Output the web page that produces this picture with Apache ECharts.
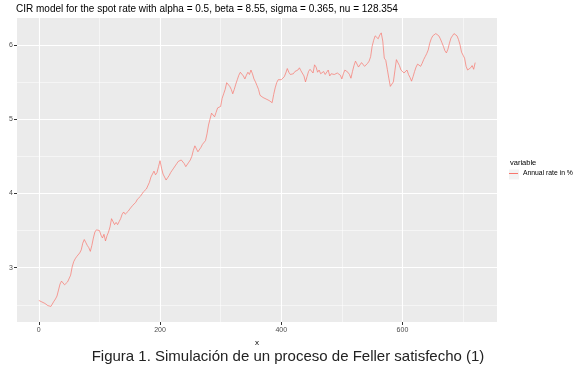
<!DOCTYPE html>
<html><head><meta charset="utf-8">
<script src="https://cdn.jsdelivr.net/npm/echarts@6/dist/echarts.min.js"></script>
<style>html,body{margin:0;padding:0;background:#fff}#c{width:576px;height:372px}</style>
</head><body><div id="c"></div>
<script>
const titleText = 'CIR model for the spot rate with alpha = 0.5, beta = 8.55, sigma = 0.365, nu = 128.354';
const captionText = 'Figura 1. Simulación de un proceso de Feller satisfecho (1)';
const seriesName = 'Annual rate in %';
const legendTitle = 'variable';
const xTicks = [0, 200, 400, 600];
const xMinorTicks = [100, 300, 500, 700];
const yTicks = [3, 4, 5, 6];
const yMinorTicks = [2.5, 3.5, 4.5, 5.5];
const X_STEP = 2.5; // one reading every 2.5 steps of x, starting at x = 0
const ys = [
2.56,2.55,2.54,2.53,2.52,2.50,2.49,2.47,2.48,2.50,2.55,2.58,2.62,2.70,2.78,2.82,2.80,2.77,2.78,2.81,
2.83,2.90,3.01,3.08,3.12,3.15,3.16,3.20,3.24,3.33,3.38,3.34,3.30,3.27,3.22,3.30,3.40,3.48,3.51,3.53,
3.50,3.44,3.40,3.45,3.36,3.43,3.48,3.55,3.66,3.64,3.58,3.61,3.58,3.62,3.66,3.72,3.75,3.72,3.70,3.76,
3.79,3.80,3.84,3.86,3.88,3.92,3.93,3.96,3.98,4.02,4.04,4.06,4.08,4.15,4.22,4.26,4.30,4.25,4.28,4.36,
4.44,4.34,4.26,4.22,4.18,4.21,4.24,4.28,4.31,4.34,4.37,4.40,4.43,4.41,4.45,4.43,4.40,4.36,4.37,4.42,
4.45,4.50,4.58,4.64,4.62,4.56,4.57,4.62,4.66,4.68,4.71,4.80,4.92,5.00,5.08,5.10,5.03,5.09,5.15,5.13,
5.17,5.28,5.34,5.40,5.49,5.51,5.44,5.40,5.34,5.40,5.47,5.53,5.59,5.63,5.64,5.58,5.54,5.59,5.63,5.60,
5.66,5.61,5.54,5.50,5.45,5.40,5.32,5.33,5.29,5.30,5.27,5.28,5.25,5.24,5.22,5.33,5.42,5.49,5.53,5.51,
5.53,5.55,5.57,5.62,5.68,5.63,5.60,5.58,5.61,5.64,5.63,5.66,5.69,5.65,5.63,5.58,5.50,5.57,5.64,5.67,
5.66,5.62,5.73,5.70,5.63,5.66,5.61,5.63,5.64,5.60,5.62,5.66,5.58,5.61,5.63,5.60,5.58,5.62,5.63,5.59,
5.54,5.61,5.66,5.64,5.63,5.60,5.55,5.64,5.72,5.78,5.77,5.70,5.73,5.76,5.74,5.71,5.73,5.75,5.78,5.84,
5.98,6.06,6.12,6.11,6.08,6.13,6.16,6.05,5.82,5.79,5.67,5.55,5.44,5.47,5.50,5.65,5.80,5.82,5.72,5.66,
5.65,5.62,5.63,5.66,5.60,5.56,5.51,5.57,5.64,5.70,5.74,5.73,5.71,5.75,5.80,5.84,5.88,5.93,6.02,6.08,
6.12,6.14,6.15,6.14,6.12,6.08,6.03,5.98,5.92,5.89,5.94,6.02,6.09,6.12,6.15,6.16,6.12,6.07,6.00,5.90,
5.86,5.82,5.71,5.66,5.64,5.69,5.72,5.67,5.76
];

const FONT = 'Liberation Sans, Arial, sans-serif';
const data = ys.map((v, i) => [i * X_STEP, v]);
const chart = echarts.init(document.getElementById('c'), null, {renderer: 'canvas'});
const gridPos = {left: 17, right: 79, top: 18, bottom: 50};
const major = {show: true, lineStyle: {color: '#FFFFFF', width: 1.1}};
const minor = {show: true, lineStyle: {color: '#FFFFFF', width: 0.5}};
chart.setOption({
  animation: false,
  backgroundColor: '#FFFFFF',
  title: [
    {text: titleText, left: 16, top: 4, padding: 0, textStyle: {fontFamily: FONT, fontSize: 10, fontWeight: 'normal', color: '#000'}},
    {text: captionText, left: 'center', top: 349, padding: 0, textStyle: {fontFamily: FONT, fontSize: 15, fontWeight: 'normal', color: '#222'}}
  ],
  grid: Object.assign({show: true, backgroundColor: '#EBEBEB', borderWidth: 0, containLabel: false, outerBoundsMode: 'none'}, gridPos),
  legend: {
    left: 509, top: 170, padding: 0, orient: 'vertical', itemWidth: 9, itemHeight: 1, itemGap: 4,
    icon: 'rect',
    textStyle: {fontFamily: FONT, fontSize: 6.8, color: '#000'},
    data: [{name: seriesName}]
  },
  graphic: [
    {type: 'rect', left: 509, top: 169.5, z: -1, shape: {width: 10, height: 10}, style: {fill: '#F2F2F2'}},
    {type: 'text', left: 510, top: 159, style: {text: legendTitle, font: '7.5px ' + FONT, fill: '#000'}}
  ],
  xAxis: [
    {type: 'value', min: -36, max: 756, name: 'x', nameLocation: 'middle', nameGap: 15,
     nameTextStyle: {fontFamily: FONT, fontSize: 8, color: '#000'},
     axisLine: {show: false, onZero: false},
     axisTick: {show: true, inside: false, length: 3, customValues: xTicks, lineStyle: {color: '#333', width: 1}},
     axisLabel: {customValues: xTicks, fontFamily: FONT, fontSize: 7, color: '#4D4D4D', margin: 5},
     splitLine: major, z: 2},
    {type: 'value', min: -36, max: 756, position: 'top', axisLine: {show: false, onZero: false},
     axisTick: {show: false, customValues: xMinorTicks},
     axisLabel: {show: false, customValues: xMinorTicks},
     splitLine: minor, z: 1}
  ],
  yAxis: [
    {type: 'value', min: 2.27, max: 6.36, name: 'value', nameLocation: 'middle', nameGap: 10,
     nameTextStyle: {fontFamily: FONT, fontSize: 8, color: '#000'},
     axisLine: {show: false, onZero: false},
     axisTick: {show: true, inside: false, length: 3, customValues: yTicks, lineStyle: {color: '#333', width: 1}},
     axisLabel: {customValues: yTicks, fontFamily: FONT, fontSize: 7, color: '#4D4D4D', margin: 4},
     splitLine: major, z: 2},
    {type: 'value', min: 2.27, max: 6.36, position: 'right', axisLine: {show: false, onZero: false},
     axisTick: {show: false, customValues: yMinorTicks},
     axisLabel: {show: false, customValues: yMinorTicks},
     splitLine: minor, z: 1}
  ],
  series: [{
    name: seriesName, type: 'line', data: data, xAxisIndex: 0, yAxisIndex: 0,
    symbol: 'none', lineStyle: {color: '#F8766D', width: 0.7}, itemStyle: {color: '#F8766D'}, z: 5
  }]
});
</script></body></html>
